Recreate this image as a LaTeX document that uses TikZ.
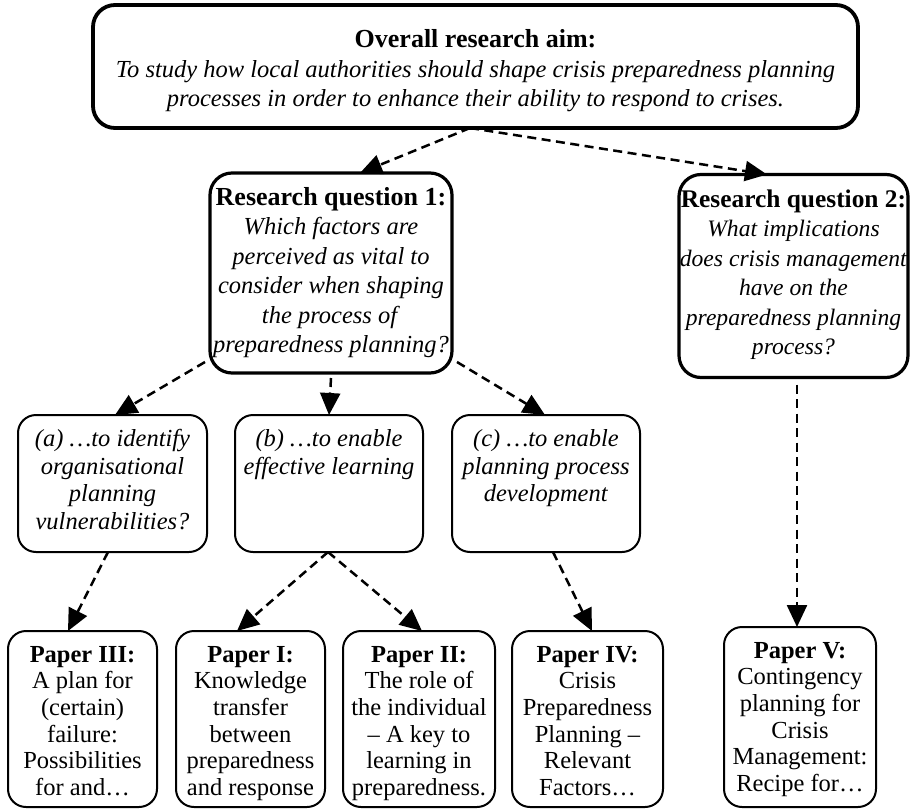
\documentclass[tikz,border=0pt]{standalone}
\usepackage{fontspec}
\setmainfont{Liberation Serif}
\usetikzlibrary{arrows.meta}
\tikzset{
  aimbox/.style={draw, line width=3.8pt, rounded corners=22pt, outer sep=0pt, inner sep=0pt},
  rqbox/.style={draw, line width=3.2pt, rounded corners=22pt, outer sep=0pt, inner sep=0pt},
  subbox/.style={draw, line width=2pt, rounded corners=18pt, outer sep=0pt, inner sep=0pt},
  hightxt/.style={anchor=north, inner sep=0pt, align=center, font=\fontsize{24.5}{29.5}\selectfont},
  narrowtxt/.style={anchor=north, inner sep=0pt, align=center, font=\fontsize{23.6}{29.5}\selectfont},
  midtxt/.style={anchor=north, inner sep=0pt, align=center, font=\fontsize{24.5}{27.5}\selectfont},
  papertxt/.style={anchor=north, inner sep=0pt, align=center, font=\fontsize{24.5}{26.7}\selectfont},
  link/.style={line width=2.5pt, dash pattern=on 9pt off 5.5pt, -{Triangle[length=22pt,width=20pt]}}
}
\newcommand{\rqhead}[1]{{\fontsize{26}{29.5}\selectfont\bfseries #1}}
\newcommand{\rqheadb}[1]{{\fontsize{25.4}{29.5}\selectfont\bfseries #1}}
\begin{document}
\begin{tikzpicture}[x=1pt,y=-1pt]
\useasboundingbox (0,0) rectangle (911,809);
% boxes
\node[aimbox, minimum width=765pt, minimum height=123pt] (aim) at (475.5,66.5) {};
\node[rqbox, minimum width=242pt, minimum height=200pt] (rq1) at (331,273) {};
\node[rqbox, minimum width=229pt, minimum height=203pt] (rq2) at (793.5,276) {};
\node[subbox, minimum width=189pt, minimum height=137pt] (a) at (112.5,483.5) {};
\node[subbox, minimum width=188pt, minimum height=137pt] (b) at (329,483.5) {};
\node[subbox, minimum width=188pt, minimum height=137pt] (c) at (546,483.5) {};
\node[subbox, minimum width=149pt, minimum height=176pt] (p3) at (82.5,719) {};
\node[subbox, minimum width=149pt, minimum height=176pt] (p1) at (250.5,719) {};
\node[subbox, minimum width=152pt, minimum height=176pt] (p2) at (419,719) {};
\node[subbox, minimum width=151pt, minimum height=176pt] (p4) at (587.5,719) {};
\node[subbox, minimum width=152pt, minimum height=180pt] (p5) at (800,717) {};
% texts
\node[hightxt] (aimt) at (475.5,27) {\strut\rqhead{Overall research aim:}\\
  \textit{To study how local authorities should shape crisis preparedness planning}\\
  \textit{processes in order to enhance their ability to respond to crises.}};
\node[hightxt] (rq1t) at (331,184.35) {\strut\rqhead{Research question 1:}\\
  \textit{Which factors are}\\ \textit{perceived as vital to}\\ \textit{consider when shaping}\\
  \textit{the process of}\\ \textit{preparedness planning?}};
\node[narrowtxt] (rq2t) at (793.5,186.35) {\strut\rqheadb{Research question 2:}\\
  \textit{What implications}\\ \textit{does crisis management}\\ \textit{have on the}\\
  \textit{preparedness planning}\\ \textit{process?}};
\node[midtxt] (at) at (112.5,427.5) {\strut\textit{(a) …to identify}\\ \textit{organisational}\\
  \textit{planning}\\ \textit{vulnerabilities?}};
\node[midtxt] (bt) at (329,427.5) {\strut\textit{(b) …to enable}\\ \textit{effective learning}};
\node[midtxt] (ct) at (546,427.5) {\strut\textit{(c) …to enable}\\ \textit{planning process}\\
  \textit{development}};
\node[papertxt] (p3t) at (82.5,643.3) {\strut\textbf{Paper III:}\\ A plan for\\ (certain)\\
  failure:\\ Possibilities\\ for and…};
\node[papertxt] (p1t) at (250.5,643.3) {\strut\textbf{Paper I:}\\ Knowledge\\ transfer\\
  between\\ preparedness\\ and response};
\node[papertxt] (p2t) at (419,643.3) {\strut\textbf{Paper II:}\\ The role of\\ the individual\\
  – A key to\\ learning in\\ preparedness.};
\node[papertxt] (p4t) at (587.5,643.3) {\strut\textbf{Paper IV:}\\ Crisis\\ Preparedness\\
  Planning –\\ Relevant\\ Factors…};
\node[papertxt] (p5t) at (800,639.3) {\strut\textbf{Paper V:}\\ Contingency\\ planning for\\
  Crisis\\ Management:\\ Recipe for…};
% connectors
\draw[link] ([xshift=-5.5pt]aim.south) -- ([xshift=29pt]rq1.north);
\draw[link] ([xshift=-5.5pt]aim.south) -- ([xshift=-26.5pt]rq2.north);
\draw[link] ([shift={(-5pt,11pt)}]rq1.south west) -- ([xshift=2.5pt]a.north);
\draw[link] ([yshift=-5pt]rq1.south) -- (b.north);
\draw[link] ([shift={(5pt,11pt)}]rq1.south east) -- ([xshift=-1pt]c.north);
\draw[link] ([xshift=3.5pt,yshift=-7pt]rq2.south) -- ([xshift=-3pt]p5.north);
\draw[link] ([xshift=-4.5pt]a.south) -- ([xshift=-14.5pt]p3.north);
\draw[link] ([xshift=-1pt]b.south) -- ([xshift=-13.5pt]p1.north);
\draw[link] ([xshift=-1pt]b.south) -- ([xshift=3pt]p2.north);
\draw[link] ([xshift=7pt]c.south) -- ([xshift=4.5pt]p4.north);
\end{tikzpicture}
\end{document}
